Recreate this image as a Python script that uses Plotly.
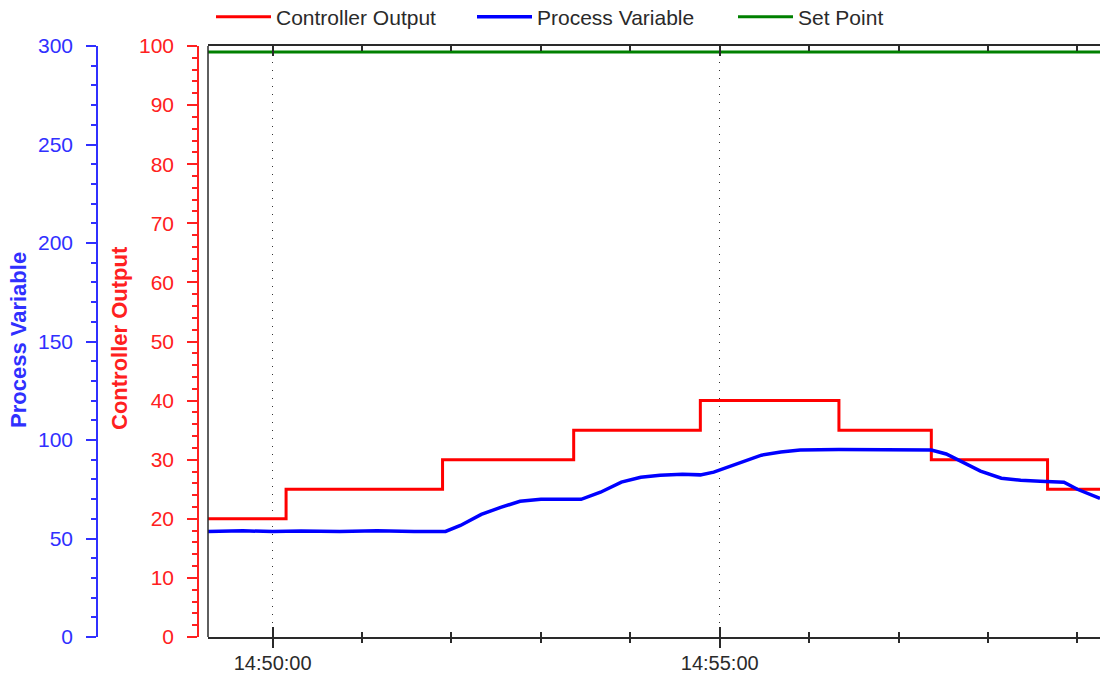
import plotly.graph_objects as go

DAY = "2024-01-01 "

# Controller Output (step changes, %)
co_times = ["14:49:16.6", "14:50:09", "14:51:54", "14:53:22", "14:54:47",
            "14:56:20", "14:57:22", "14:58:40", "14:59:15.2"]
co_values = [20, 25, 30, 35, 40, 35, 30, 25, 25]

# Process Variable
pv_times = ["14:49:16.6", "14:49:40", "14:50:00", "14:50:19", "14:50:45", "14:51:10",
            "14:51:35", "14:51:56", "14:52:06", "14:52:20", "14:52:33", "14:52:46",
            "14:53:00", "14:53:15", "14:53:27", "14:53:40", "14:53:54", "14:54:07",
            "14:54:20", "14:54:35", "14:54:47", "14:54:56", "14:55:14", "14:55:28",
            "14:55:41", "14:55:54", "14:56:20", "14:56:50", "14:57:22", "14:57:32",
            "14:57:42", "14:57:55", "14:58:09", "14:58:22", "14:58:35", "14:58:51",
            "14:59:00", "14:59:15.2"]
pv_values = [53.6, 53.9, 53.5, 53.8, 53.6, 53.9, 53.5, 53.6, 56.6, 62.2, 65.8, 68.9,
             69.9, 70.1, 69.9, 73.5, 78.6, 81.1, 82.1, 82.6, 82.3, 83.7, 88.8, 92.3,
             93.9, 94.9, 95.2, 95.2, 94.9, 92.9, 89.3, 84.2, 80.6, 79.6, 79.1, 78.6,
             75.0, 70.4]

# Set Point
sp_times = ["14:49:16.6", "14:59:15.2"]
sp_values = [99, 99]

x_range = [DAY + "14:49:16.6", DAY + "14:59:15.2"]

FONT = "Liberation Sans, Arial, sans-serif"
RED = "#ff2020"
BLUE = "#3030ff"
DARK = "#2a2a2a"

fig = go.Figure()
fig.add_trace(go.Scatter(x=[DAY + t for t in co_times], y=co_values, name="Controller Output",
                         mode="lines", line=dict(color="#ff0000", width=3, shape="hv"),
                         xaxis="x", yaxis="y"))
fig.add_trace(go.Scatter(x=[DAY + t for t in pv_times], y=pv_values, name="Process Variable",
                         mode="lines", line=dict(color="#0000ff", width=3.5),
                         xaxis="x", yaxis="y2"))
fig.add_trace(go.Scatter(x=[DAY + t for t in sp_times], y=sp_values, name="Set Point",
                         mode="lines", line=dict(color="#008000", width=3),
                         xaxis="x2", yaxis="y"))

x0 = 208 / 1100

fig.update_layout(
    width=1100, height=682, autosize=False,
    margin=dict(l=0, r=0, t=46, b=45, autoexpand=False),
    paper_bgcolor="white", plot_bgcolor="white",
    font=dict(family=FONT, size=20, color=DARK),
    xaxis=dict(
        type="date", domain=[x0, 1], range=x_range, anchor="y",
        showline=True, linecolor=DARK, linewidth=1.5, mirror="ticks",
        ticks="inside", ticklen=10, tickcolor=DARK, tickwidth=1.5,
        tick0=DAY + "14:50:00", dtick=300000, showticklabels=False,
        showgrid=True, gridcolor="#333333", gridwidth=1, griddash="1px,7px",
        minor=dict(dtick=60000, ticks="inside", ticklen=5, tickcolor=DARK, showgrid=False),
        zeroline=False,
    ),
    xaxis2=dict(
        type="date", overlaying="x", range=x_range, anchor="y", side="bottom",
        showline=False, ticks="outside", ticklen=10, tickcolor=DARK, tickwidth=1.5,
        tick0=DAY + "14:50:00", dtick=300000, tickformat="%H:%M:%S",
        showticklabels=True, ticklabelstandoff=-2, showgrid=False,
        tickfont=dict(size=20, color=DARK),
        minor=dict(dtick=60000, ticks="outside", ticklen=5, tickcolor=DARK, showgrid=False),
        zeroline=False,
    ),
    yaxis=dict(
        range=[0, 100], domain=[0, 1], anchor="free", position=198 / 1100, side="left",
        showline=True, linecolor=RED, linewidth=1.5,
        ticks="outside", ticklen=10, tickcolor=RED, tickwidth=1.5, dtick=10,
        tickfont=dict(color=RED, size=21), ticklabelstandoff=9,
        minor=dict(dtick=2, ticks="outside", ticklen=5, tickcolor=RED),
        showgrid=False, zeroline=False,
    ),
    yaxis2=dict(
        range=[0, 300], overlaying="y", anchor="free", position=97 / 1100, side="left",
        showline=True, linecolor=BLUE, linewidth=1.5,
        ticks="outside", ticklen=10, tickcolor=BLUE, tickwidth=1.5, dtick=50,
        tickfont=dict(color=BLUE, size=21), ticklabelstandoff=9,
        minor=dict(dtick=10, ticks="outside", ticklen=5, tickcolor=BLUE),
        showgrid=False, zeroline=False,
    ),
    legend=dict(
        orientation="h", x=211 / 1100, xanchor="left", y=1 + 29 / 591, yanchor="middle",
        font=dict(family=FONT, size=21, color=DARK), bgcolor="rgba(0,0,0,0)",
        itemwidth=55, entrywidth=191, entrywidthmode="pixels",
    ),
    showlegend=True,
)

# Left frame edge of plot area
fig.add_shape(type="line", xref="x domain", yref="y domain", x0=0, x1=0, y0=0, y1=1,
              line=dict(color=DARK, width=1.5))

fig.add_annotation(text="<b>Process Variable</b>", xref="paper", yref="paper",
                   x=18 / 1100, y=(637 - 340) / 591, xanchor="center", yanchor="middle",
                   textangle=-90, showarrow=False,
                   font=dict(family=FONT, size=22, color=BLUE))
fig.add_annotation(text="<b>Controller Output</b>", xref="paper", yref="paper",
                   x=119 / 1100, y=(637 - 338) / 591, xanchor="center", yanchor="middle",
                   textangle=-90, showarrow=False,
                   font=dict(family=FONT, size=22, color=RED))

fig.write_html("out.html", config={"displayModeBar": False},
               post_script="document.body.style.margin='0px';")
